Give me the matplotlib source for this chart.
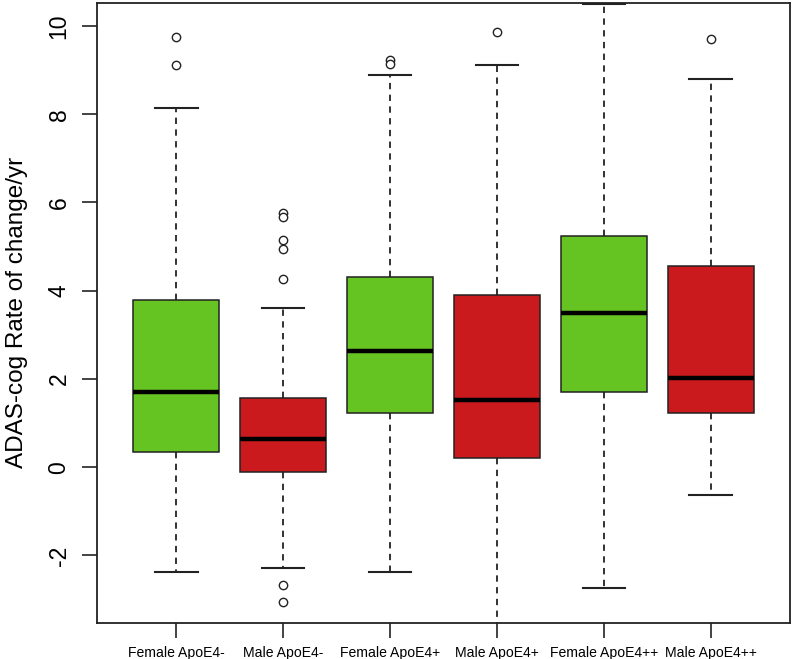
import matplotlib
matplotlib.use("Agg")
import matplotlib.pyplot as plt

plt.rcParams['font.family'] = ['Liberation Sans', 'DejaVu Sans']

# --- data ---
groups = ['Female ApoE4-', 'Male ApoE4-', 'Female ApoE4+',
          'Male ApoE4+', 'Female ApoE4++', 'Male ApoE4++']
q1 = [0.34, -0.10, 1.22, 0.20, 1.71, 1.22]
medians = [1.70, 0.63, 2.64, 1.53, 3.50, 2.02]
q3 = [3.80, 1.56, 4.31, 3.91, 5.25, 4.57]
whisker_low = [-2.38, -2.29, -2.38, -4.20, -2.74, -0.62]
whisker_high = [8.15, 3.60, 8.88, 9.11, 10.50, 8.79]
outliers = [
    [9.76, 9.11],
    [5.76, 5.67, 5.14, 4.95, 4.27, -2.66, -3.06],
    [9.22, 9.14],
    [9.87],
    [],
    [9.70],
]
box_colors = ['#66C422', '#CB1A1E', '#66C422', '#CB1A1E', '#66C422', '#CB1A1E']
y_ticks = [-2, 0, 2, 4, 6, 8, 10]

stats = []
for i, name in enumerate(groups):
    stats.append(dict(label=name, q1=q1[i], med=medians[i], q3=q3[i],
                      whislo=whisker_low[i], whishi=whisker_high[i],
                      fliers=outliers[i]))

fig = plt.figure(figsize=(7.93, 6.59), dpi=100)
ax = fig.add_axes([97 / 793, 1 - 622.5 / 659, (790 - 97) / 793, (622.5 - 3) / 659])

bp = ax.bxp(stats, positions=range(1, 7), widths=0.8, patch_artist=True,
            boxprops=dict(edgecolor='#222222', linewidth=1.1),
            medianprops=dict(color='black', linewidth=3.2),
            whiskerprops=dict(color='#222222', linewidth=1.3, linestyle=(0, (3.5, 3))),
            capprops=dict(color='#222222', linewidth=1.5),
            flierprops=dict(marker='o', markerfacecolor='white', markeredgecolor='#222222',
                            markersize=6, markeredgewidth=1.0))
for patch, c in zip(bp['boxes'], box_colors):
    patch.set_facecolor(c)
# R draws caps at half box width
for cap in bp['caps']:
    x0, x1 = cap.get_xdata()
    mid = (x0 + x1) / 2
    cap.set_xdata([mid - 0.2, mid + 0.2])

ax.set_xlim(0.26, 6.74)
ax.set_ylim(-3.52, 10.52)
ax.set_yticks(y_ticks)
ax.set_yticklabels([str(t) for t in y_ticks], rotation=90, va='center', fontsize=16.5)
ax.set_xticks(range(1, 7))
ax.set_xticklabels(groups, fontsize=10.1)
ax.tick_params(axis='y', length=11, width=1.2, pad=8, color='#222222')
ax.tick_params(axis='x', length=11, width=1.2, pad=6, color='#222222')
ax.set_ylabel('ADAS-cog Rate of change/yr', fontsize=17.5, labelpad=14)
for s in ax.spines.values():
    s.set_linewidth(1.3)
    s.set_color('#222222')

fig.savefig('out.png', dpi=100)
